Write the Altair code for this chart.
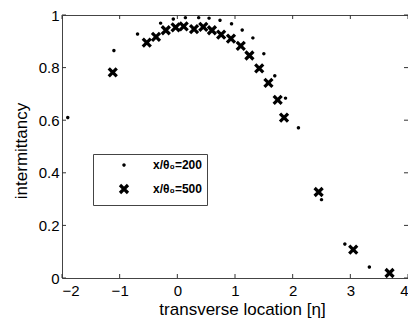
import altair as alt
import pandas as pd

# Data
dots_x = [-1.90, -1.10, -0.69, -0.29, -0.07, 0.14, 0.37, 0.55, 0.74, 0.94,
          1.125, 1.31, 1.50, 1.69, 1.876, 2.10, 2.50, 2.905, 3.33]
dots_y = [0.61, 0.865, 0.928, 0.969, 0.985, 0.99, 0.99, 0.988, 0.98, 0.967,
          0.943, 0.913, 0.853, 0.769, 0.684, 0.571, 0.298, 0.129, 0.042]
cross_x = [-1.12, -0.53, -0.37, -0.20, -0.03, 0.11, 0.29, 0.45, 0.60, 0.76,
           0.93, 1.10, 1.25, 1.42, 1.58, 1.74, 1.85, 2.45, 3.05, 3.68]
cross_y = [0.782, 0.895, 0.917, 0.942, 0.953, 0.957, 0.946, 0.955, 0.942, 0.925,
           0.91, 0.883, 0.846, 0.797, 0.742, 0.677, 0.61, 0.327, 0.108, 0.019]
series_names = ["x/θ₀=200", "x/θ₀=500"]
x_ticks = [-2, -1, 0, 1, 2, 3, 4]
y_ticks = [0, 0.2, 0.4, 0.6, 0.8, 1.0]

PL, PT = 54, 7
W, H = 400 - PL, 263
TL = 4  # inward tick length
FONT = "Liberation Sans"

df = pd.concat([
    pd.DataFrame({"x": dots_x, "y": dots_y, "s": series_names[0]}),
    pd.DataFrame({"x": cross_x, "y": cross_y, "s": series_names[1]}),
])
xt = pd.DataFrame({"v": x_ticks})
yt = pd.DataFrame({"v": y_ticks})

xscale = alt.Scale(domain=[-2, 4], nice=False, zero=False)
yscale = alt.Scale(domain=[0, 1], nice=False)

X_PATH = "M-1,-1L1,1M1,-1L-1,1"


def leg():
    return alt.Legend(title=None, orient="none", legendX=31, legendY=139,
                      padding=5, symbolOffset=20, labelOffset=23,
                      rowPadding=7, strokeColor="#444", fillColor="white",
                      labelFontSize=12, labelFontWeight="bold",
                      labelFont=FONT, labelColor="black")


points = alt.Chart(df).mark_point(filled=False, opacity=1).encode(
    x=alt.X("x:Q", scale=xscale,
            axis=alt.Axis(values=x_ticks, format="~g", ticks=False, labelPadding=5,
                          title="transverse location [η]", titleX=180, titleY=36.5,
                          titleBaseline="alphabetic")),
    y=alt.Y("y:Q", scale=yscale,
            axis=alt.Axis(values=y_ticks, format="~g", ticks=False, labelPadding=3,
                          title="intermittancy", titleX=-36, titleY=135.5,
                          titleBaseline="alphabetic", titleAngle=270)),
    shape=alt.Shape("s:N", scale=alt.Scale(domain=series_names, range=["circle", X_PATH]),
                    legend=leg()),
    size=alt.Size("s:N", scale=alt.Scale(domain=series_names, range=[3, 64]), legend=leg()),
    strokeWidth=alt.StrokeWidth("s:N", scale=alt.Scale(domain=series_names, range=[1.7, 3.2]),
                                legend=leg()),
    color=alt.Color("s:N", scale=alt.Scale(domain=series_names, range=["black", "black"]),
                    legend=leg()),
)

tick_style = dict(color="#333", strokeWidth=1)
bottom = alt.Chart(xt).mark_rule(**tick_style).encode(
    x=alt.X("v:Q", scale=xscale), y=alt.value(H), y2=alt.value(H - TL))
top = alt.Chart(xt).mark_rule(**tick_style).encode(
    x=alt.X("v:Q", scale=xscale), y=alt.value(0), y2=alt.value(TL))
left = alt.Chart(yt).mark_rule(**tick_style).encode(
    y=alt.Y("v:Q", scale=yscale), x=alt.value(0), x2=alt.value(TL))
right = alt.Chart(yt).mark_rule(**tick_style).encode(
    y=alt.Y("v:Q", scale=yscale), x=alt.value(W), x2=alt.value(W - TL))

chart = alt.layer(bottom, top, left, right, points).properties(
    width=W, height=H,
    autosize=alt.AutoSizeParams(type="none"),
    padding={"left": PL, "top": PT, "right": 0, "bottom": 311 - PT - H},
).configure_view(
    stroke="#444", strokeWidth=1
).configure_axis(
    grid=False, domain=False, labelFont=FONT, titleFont=FONT,
    labelFontSize=15, titleFontSize=17, labelColor="black", titleColor="black",
    titleFontWeight="normal"
)

chart.save("out.html", embed_options={"renderer": "svg", "actions": False})
